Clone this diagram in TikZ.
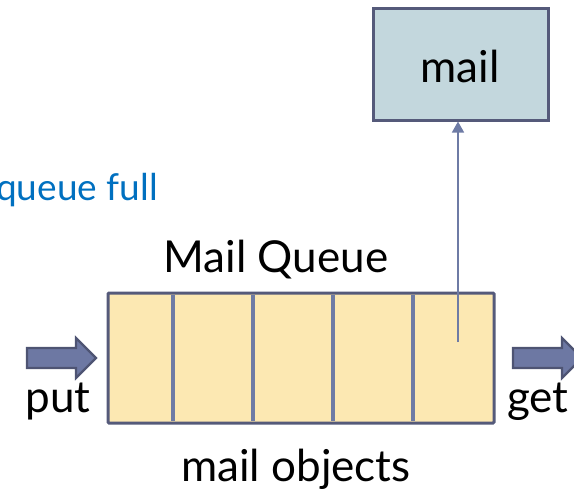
\documentclass[tikz,border=0pt]{standalone}
\usepackage{fontspec}
\setmainfont{Lato}
\usetikzlibrary{arrows.meta}
\definecolor{cellfill}{HTML}{FCE8B2}
\definecolor{frame}{HTML}{555A7A}
\definecolor{divider}{HTML}{6E7BA5}
\definecolor{mailfill}{HTML}{C3D7DD}
\definecolor{arrowfill}{HTML}{6D78A3}
\definecolor{arrowedge}{HTML}{4E5473}
\definecolor{note}{HTML}{0070C0}
\tikzset{
  x=1pt, y=-1pt,
  label/.style={inner sep=0pt, font=\fontsize{44}{48}\selectfont, anchor=base},
  blockarrow/.style={draw=arrowedge, fill=arrowfill, line width=2.2pt, line join=miter},
}
% block arrow pointing right: tail x, head-start x, tip x, centre y
\newcommand\rightblock[4]{%
  \path[blockarrow] (#1,#4-10) -- (#2,#4-10) -- (#2,#4-20) -- (#3,#4)
    -- (#2,#4+20) -- (#2,#4+10) -- (#1,#4+10) -- cycle;}
\begin{document}
\begin{tikzpicture}
\useasboundingbox (0,0) rectangle (574,493);
% queue body
\node[draw=frame, fill=cellfill, line width=3pt, rounded corners=1pt,
  minimum width=386pt, minimum height=130pt, inner sep=0pt] (queue) at (301,358) {};
\foreach \xx/\nm in {173/d1,253/d2,333/d3,413/d4}
  \draw[divider, line width=3.5pt] (\xx,295) coordinate (\nm top) -- (\xx,421) coordinate (\nm bot);
% mail object box
\node[draw=frame, fill=mailfill, line width=3pt, minimum width=175pt, minimum height=112pt,
  inner sep=0pt] (mail) at (460.5,64) {};
\node[label] (mailtxt) at (460,82) {mail};
% link from last cell to mail box
\coordinate (slot) at (458,342);
\draw[divider, line width=1.5pt, -{Triangle[length=11pt,width=12pt]}] (slot) -- (slot |- mail.south);
% put / get arrows
\rightblock{27}{76}{96}{358}
\rightblock{513}{562}{582}{358}
% texts
\node[label] (put) at (58,412) {put};
\node[label] (get) at (538,412) {get};
\node[label] (title) at (276,272) {Mail Queue};
\node[label] (objects) at (296,481) {mail objects};
\node[label, anchor=base west, text=note, font=\fontsize{37}{40}\selectfont] (full) at (-4,200) {queue full};
\end{tikzpicture}
\end{document}
